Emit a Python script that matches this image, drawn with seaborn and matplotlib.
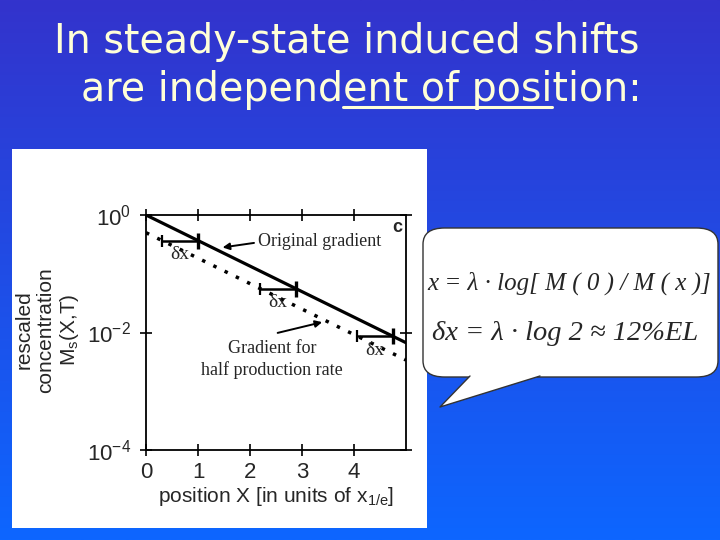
"""Slide: steady-state induced shifts are independent of position."""

import matplotlib.pyplot as plt
import numpy as np
import seaborn as sns
from matplotlib.colors import LinearSegmentedColormap
from matplotlib.lines import Line2D
from matplotlib.patches import FancyBboxPatch, Polygon, Rectangle

# gradients on a log scale are straight lines, so two end points each
position = [0.0, 5.0]
original_gradient = [1.0, 0.0067]
half_rate_gradient = [0.5, 0.0034]

# horizontal shift bars (delta x) between the two gradients
shift_start = [0.31, 2.19, 4.06]
shift_end = [1.0, 2.88, 4.75]
shift_level = [0.368, 0.056, 0.0087]

x_ticks = [0, 1, 2, 3, 4]
y_ticks = [1.0, 1e-2, 1e-4]
y_tick_labels = [r"$10^{0}$", r"$10^{-2}$", r"$10^{-4}$"]

TITLE_LINE_1 = "In steady-state induced shifts"
TITLE_PREFIX = "are independ"
TITLE_UNDERLINED = "ent of posi"
TITLE_SUFFIX = "tion:"

W, H = 720, 540


def fx(px: float) -> float:
    return px / W


def fy(py: float) -> float:
    return 1 - py / H


sns.set_theme(style="ticks")
plt.rcParams["font.family"] = ["Liberation Sans", "DejaVu Sans"]
plt.rcParams["mathtext.fontset"] = "custom"
plt.rcParams["mathtext.rm"] = "Liberation Sans"
plt.rcParams["mathtext.it"] = "Liberation Sans:italic"

fig = plt.figure(figsize=(7.2, 5.4), dpi=100)

# blue slide background
bg = fig.add_axes([0, 0, 1, 1], zorder=-10)
cmap = LinearSegmentedColormap.from_list("slide", ["#3333cc", "#0d66ff"])
bg.imshow(np.linspace(0, 1, 256).reshape(-1, 1), aspect="auto", cmap=cmap, extent=[0, 1, 0, 1])
bg.axis("off")

# white figure panel
fig.add_artist(Rectangle((fx(12), fy(528)), fx(427) - fx(12), fy(149) - fy(528),
                         transform=fig.transFigure, facecolor="white", edgecolor="none", zorder=-5))

ax = fig.add_axes([fx(146), fy(450), fx(406) - fx(146), fy(215) - fy(450)])
sns.lineplot(x=position, y=original_gradient, ax=ax, color="black", linewidth=2.3)
sns.lineplot(x=position, y=half_rate_gradient, ax=ax, color="black", linewidth=2.5,
             linestyle=(0, (1, 2.6)))

ax.hlines(shift_level, shift_start, shift_end, color="black", linewidth=1.8)
ax.plot(shift_start, shift_level, linestyle="none", marker="|", markersize=9,
        markeredgewidth=1.6, color="black")
ax.plot(shift_end, shift_level, linestyle="none", marker="|", markersize=12,
        markeredgewidth=2.4, color="black")
for start, end, level in zip(shift_start, shift_end, shift_level):
    ax.annotate("δx", xy=((start + end) / 2, level), xytext=(0, -14), textcoords="offset pixels",
                ha="center", va="center", fontsize=14, family="Liberation Serif")

ax.text(2.15, 0.348, "Original gradient", ha="left", va="center", fontsize=13,
        family="Liberation Serif")
ax.annotate("", xy=(1.42, 0.276), xytext=(2.13, 0.34),
            arrowprops=dict(arrowstyle="-|>", color="black", lw=1.4, mutation_scale=10))
ax.text(2.42, 0.0035, "Gradient for\nhalf production rate", ha="center", va="center",
        fontsize=13, family="Liberation Serif", linespacing=1.3)
ax.annotate("", xy=(3.44, 0.0154), xytext=(2.48, 0.0096),
            arrowprops=dict(arrowstyle="-|>", color="black", lw=1.4, mutation_scale=10))
ax.text(0.965, 0.945, "c", transform=ax.transAxes, ha="center", va="center",
        fontsize=13, fontweight="bold")

ax.set_yscale("log")
ax.set_xlim(0, 5)
ax.set_ylim(1e-4, 1)
ax.set_xticks(x_ticks)
ax.set_yticks(y_ticks)
ax.set_yticklabels(y_tick_labels)
ax.minorticks_off()
ax.tick_params(direction="inout", length=8, width=1.2, labelsize=16, color="black",
               top=True, right=True)
ax.tick_params(axis="y", pad=7)
ax.tick_params(axis="x", pad=5)
for spine in ax.spines.values():
    spine.set_linewidth(1.3)
    spine.set_color("black")
ax.set_xlabel(r"position X [in units of x$_{\mathrm{1/e}}$]", fontsize=15, labelpad=1)
ax.set_ylabel("")

fig.text(fx(48), fy(330), "rescaled\nconcentration\n" + r"M$_{\mathrm{s}}$(X,T)", rotation=90,
         ha="center", va="center", fontsize=15, linespacing=1.15)

# speech bubble with the formulas
bubble = FancyBboxPatch((fx(423), fy(377)), fx(718) - fx(423), fy(228) - fy(377),
                        boxstyle="round,pad=0,rounding_size=0.03", transform=fig.transFigure,
                        facecolor="white", edgecolor="#333333", linewidth=1.0, zorder=5)
fig.add_artist(bubble)
tail = [(fx(470), fy(376)), (fx(440), fy(407)), (fx(540), fy(376))]
fig.add_artist(Polygon(tail, closed=True, transform=fig.transFigure, facecolor="white",
                       edgecolor="none", zorder=6))
fig.add_artist(Line2D([p[0] for p in tail], [p[1] for p in tail], transform=fig.transFigure,
                      color="#333333", linewidth=1.0, zorder=7))
fig.text(fx(427), fy(283), "x = λ · log[ M ( 0 ) / M ( x )]", ha="left", va="center",
         fontsize=18, family="Liberation Serif", style="italic", zorder=8)
fig.text(fx(432), fy(333), "δx = λ · log 2 ≈ 12%EL", ha="left", va="center",
         fontsize=20.5, family="Liberation Serif", style="italic", zorder=8)

# slide title
title_props = dict(fontsize=28.5, color="#ffffd8", family="DejaVu Sans", va="center")
fig.text(fx(347), fy(42), TITLE_LINE_1, ha="center", **title_props)
line_2 = TITLE_PREFIX + TITLE_UNDERLINED + TITLE_SUFFIX
renderer = fig.canvas.get_renderer()


def text_width(s: str) -> float:
    probe = fig.text(0, 0, s, ha="left", **title_props)
    width = probe.get_window_extent(renderer).width / W
    probe.remove()
    return width


x_left = fx(361) - text_width(line_2) / 2
fig.text(x_left, fy(90), line_2, ha="left", **title_props)
u_start = x_left + text_width(TITLE_PREFIX)
u_end = x_left + text_width(TITLE_PREFIX + TITLE_UNDERLINED)
fig.add_artist(Line2D([u_start, u_end], [fy(107), fy(107)], transform=fig.transFigure,
                      color="#ffffd8", linewidth=2.2))

fig.savefig("out.png", dpi=100)
